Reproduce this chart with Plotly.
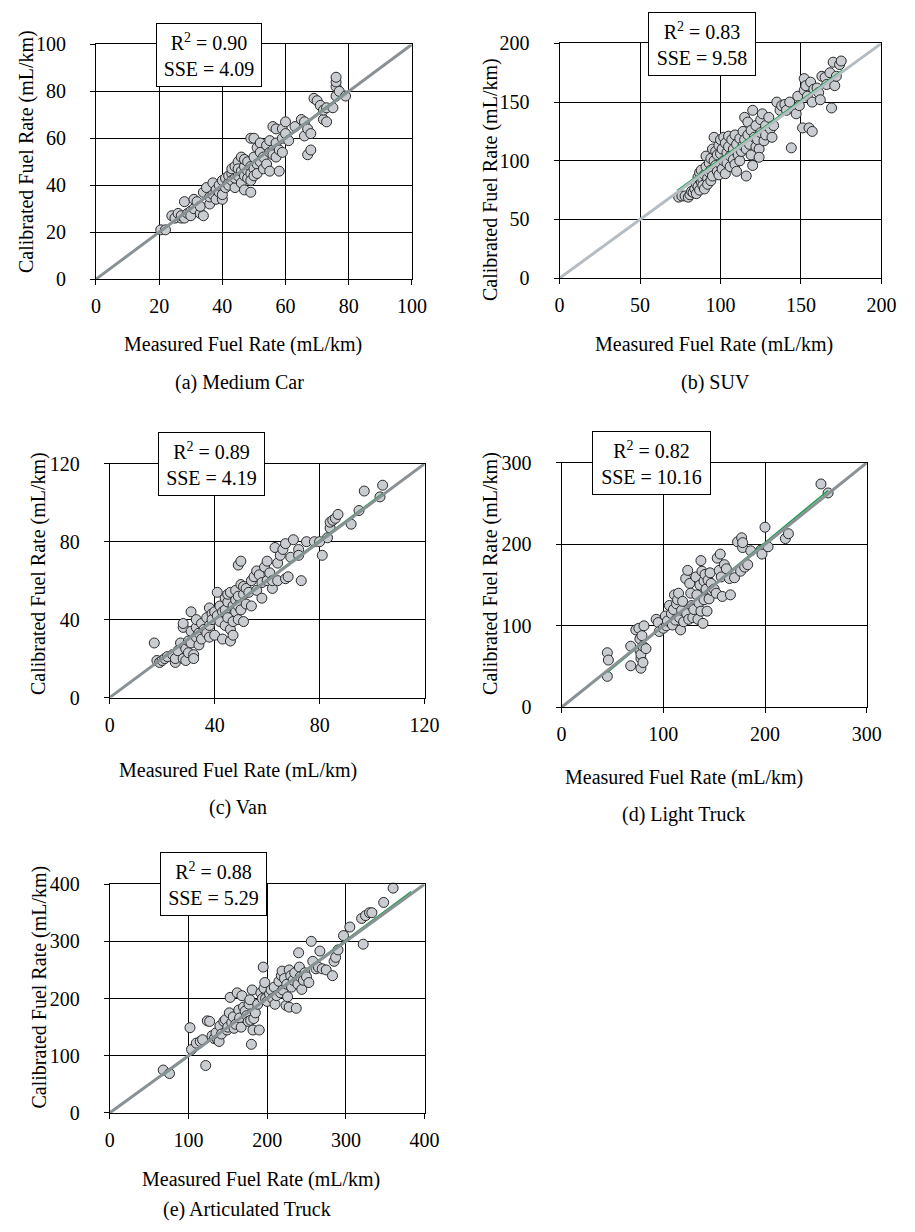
import plotly.graph_objects as go

W, H = 915, 1232
FONT = "Liberation Serif"

# ---------------- data ----------------
# (a) Medium Car
a_measured = [20.5, 22, 24, 25, 26, 27, 27, 28, 28, 29, 30, 30, 31, 31, 32, 33, 34, 33, 34, 35,
              36, 36, 37, 37, 38, 38, 39, 39, 40, 40, 40, 41, 41, 42, 42, 42, 43, 43, 43, 44,
              44, 44, 45, 45, 45, 46, 46, 46, 47, 47, 47, 47, 48, 48, 48, 49, 49, 49, 49, 49,
              50, 50, 50, 50, 51, 51, 51, 52, 52, 52, 53, 53, 54, 54, 55, 55, 55, 56, 56, 56,
              57, 57, 57, 58, 58, 59, 59, 59, 60, 60, 61, 63, 65, 66, 66, 67, 67, 68, 68, 69,
              70, 71, 72, 72, 73, 73, 75, 76, 76, 76, 76, 77, 79]
a_calibrated = [21, 21, 27, 26, 28, 26, 27, 26, 33, 28, 29, 27, 34, 30, 33, 28, 27, 31, 37, 39,
                32, 35, 41, 36, 38, 34, 37, 40, 34, 36, 42, 39, 43, 41, 44, 40, 45, 47, 42, 48,
                39, 43, 44, 50, 47, 52, 46, 41, 38, 44, 48, 51, 50, 46, 43, 60, 48, 45, 42, 37,
                60, 52, 47, 44, 56, 49, 45, 58, 50, 54, 47, 52, 57, 49, 46, 54, 59, 65, 55, 53,
                64, 58, 52, 46, 55, 64, 60, 54, 67, 62, 59, 65, 68, 67, 61, 64, 53, 55, 62, 77,
                76, 74, 68, 72, 73, 67, 73, 78, 82, 84, 86, 80, 78]
a_trend_x = [20, 79]
a_trend_y = [19.8, 79.5]

# (b) SUV
b_measured = [74, 76, 78, 80, 81, 82, 83, 84, 85, 85, 86, 86, 87, 87, 88, 88, 89, 89, 90, 90,
              91, 91, 92, 92, 93, 93, 94, 94, 94, 95, 95, 96, 96, 97, 97, 98, 98, 99, 99, 100,
              100, 100, 101, 101, 102, 102, 103, 103, 104, 104, 105, 105, 106, 106, 107, 108, 108, 109, 109, 110,
              110, 111, 112, 112, 113, 114, 114, 115, 115, 116, 116, 117, 117, 118, 119, 119, 120, 120, 121, 122,
              122, 123, 124, 124, 125, 125, 126, 127, 128, 128, 130, 131, 132, 133, 135, 137, 138, 140, 141, 143,
              144, 146, 147, 148, 149, 151, 152, 152, 153, 154, 155, 156, 157, 157, 158, 160, 161, 162, 163, 165,
              166, 168, 169, 170, 171, 172, 174, 175]
b_calibrated = [69, 70, 70, 69, 71, 74, 73, 76, 72, 80, 78, 86, 75, 90, 82, 92, 84, 79, 88, 76,
                104, 95, 85, 80, 98, 90, 102, 92, 83, 110, 87, 120, 100, 96, 108, 91, 105, 113, 88, 106,
                97, 118, 110, 93, 120, 100, 115, 89, 107, 98, 121, 112, 95, 104, 118, 101, 110, 122, 97, 91,
                114, 105, 119, 100, 108, 125, 113, 137, 118, 87, 110, 133, 122, 114, 126, 105, 143, 96, 120, 130,
                112, 118, 110, 103, 135, 124, 140, 117, 130, 122, 137, 127, 120, 130, 150, 143, 147, 148, 143, 150,
                111, 143, 140, 155, 147, 128, 170, 160, 164, 155, 128, 167, 125, 150, 161, 162, 158, 152, 172, 171,
                165, 175, 145, 184, 164, 172, 182, 185]
b_trend_x = [73, 176]
b_trend_y = [74.5, 177.5]

# (c) Van
c_measured = [17, 18, 19, 20, 21, 22, 24, 25, 25, 26, 27, 28, 28, 28, 29, 29, 30, 30, 31, 31,
              31, 32, 32, 33, 33, 33, 34, 34, 35, 35, 36, 37, 37, 38, 38, 38, 39, 39, 40, 40,
              41, 41, 42, 42, 43, 43, 44, 44, 44, 45, 45, 45, 46, 46, 46, 47, 47, 47, 48, 48,
              48, 49, 49, 49, 49, 50, 50, 50, 51, 51, 51, 52, 52, 53, 54, 54, 55, 56, 56, 57,
              58, 58, 59, 60, 60, 61, 62, 62, 63, 64, 64, 65, 66, 67, 67, 68, 69, 70, 72, 72,
              73, 75, 78, 80, 81, 83, 84, 84, 85, 86, 87, 92, 95, 97, 103, 104]
c_calibrated = [28, 19, 18, 19, 20, 21, 22, 18, 20, 24, 28, 20, 36, 38, 25, 19, 23, 29, 44, 34,
                28, 22, 20, 31, 36, 40, 27, 33, 30, 38, 35, 33, 41, 46, 37, 31, 43, 40, 44, 32,
                54, 42, 47, 39, 30, 44, 51, 45, 37, 49, 53, 41, 54, 35, 29, 47, 39, 32, 55, 50,
                44, 52, 47, 40, 68, 70, 58, 45, 53, 57, 39, 56, 48, 54, 47, 60, 62, 65, 55, 63,
                51, 59, 67, 60, 70, 64, 56, 60, 77, 69, 60, 73, 76, 79, 61, 62, 72, 81, 76, 73,
                60, 80, 80, 80, 73, 82, 87, 90, 91, 92, 94, 89, 96, 106, 103, 109]
c_trend_x = [17, 104]
c_trend_y = [17.3, 104.8]

# (d) Light Truck
d_measured = [45, 46, 45, 68, 68, 73, 76, 77, 77, 78, 78, 78, 79, 80, 80, 81, 83, 93, 95, 96,
              100, 102, 103, 104, 106, 108, 109, 110, 111, 112, 113, 114, 115, 116, 117, 118, 119, 120, 122, 123,
              124, 125, 126, 127, 128, 129, 130, 132, 133, 134, 135, 136, 137, 137, 138, 139, 140, 140, 141, 142,
              143, 144, 145, 146, 147, 148, 150, 152, 153, 155, 156, 157, 158, 160, 162, 165, 166, 170, 173, 176,
              177, 178, 178, 180, 183, 186, 196, 197, 200, 203, 220, 223, 255, 262]
d_calibrated = [67, 58, 38, 75, 51, 95, 97, 84, 70, 60, 65, 48, 88, 55, 75, 100, 72, 108, 104, 93,
                97, 112, 100, 106, 125, 115, 101, 120, 138, 107, 127, 132, 140, 110, 95, 119, 130, 105, 158, 115,
                168, 108, 152, 140, 125, 110, 120, 160, 138, 108, 128, 150, 180, 118, 167, 103, 155, 132, 163, 145,
                118, 156, 133, 165, 152, 143, 145, 140, 183, 168, 188, 160, 136, 175, 170, 158, 138, 159, 203, 167,
                208, 196, 202, 172, 175, 192, 193, 188, 221, 197, 207, 213, 274, 263]
d_trend_x = [45, 262]
d_trend_y = [43, 266]

# (e) Articulated Truck
e_measured = [68, 76, 102, 104, 110, 115, 118, 122, 124, 127, 130, 133, 135, 137, 139, 140, 142, 145, 147, 149,
              150, 152, 153, 155, 157, 158, 160, 162, 164, 165, 167, 168, 170, 172, 174, 176, 177, 178, 179, 180,
              181, 182, 183, 185, 188, 190, 192, 194, 195, 196, 197, 198, 200, 203, 205, 207, 209, 210, 212, 215,
              217, 218, 219, 220, 222, 224, 225, 226, 228, 228, 230, 231, 233, 235, 237, 239, 240, 241, 242, 244,
              246, 248, 250, 253, 256, 258, 262, 265, 267, 270, 275, 283, 285, 287, 290, 297, 305, 320, 322, 325,
              330, 333, 348, 360]
e_calibrated = [75, 69, 149, 111, 122, 125, 128, 83, 161, 160, 135, 130, 140, 128, 125, 152, 138, 160, 163, 145,
                150, 175, 202, 158, 168, 148, 155, 210, 180, 166, 150, 205, 185, 178, 170, 160, 190, 198, 162, 120,
                215, 145, 165, 175, 190, 145, 210, 200, 255, 218, 228, 200, 195, 208, 215, 200, 220, 190, 205, 230,
                210, 240, 248, 215, 235, 188, 225, 203, 250, 185, 240, 220, 232, 245, 183, 225, 280, 255, 238, 216,
                232, 245, 238, 228, 300, 265, 252, 255, 283, 252, 250, 240, 265, 272, 285, 310, 325, 340, 295, 345,
                350, 350, 368, 393]
e_trend_x = [68, 383]
e_trend_y = [66, 387]

r2_labels = ["0.90", "0.83", "0.89", "0.82", "0.88"]
sse_labels = ["4.09", "9.58", "4.19", "10.16", "5.29"]
captions = ["(a) Medium Car", "(b) SUV", "(c) Van", "(d) Light Truck", "(e) Articulated Truck"]
axis_max = [100, 200, 120, 300, 400]
axis_dtick = [20, 50, 40, 100, 100]

# ---------------- layout geometry (pixels) ----------------
panels = [
    dict(x=a_measured, y=a_calibrated, tx=a_trend_x, ty=a_trend_y, box=(93, 416, 34, 273),
         diag="#8a9195", ann=(209, 45), annw=96, ytitle=(22, 143), xtitle=(243, 340), cap=(240, 378)),
    dict(x=b_measured, y=b_calibrated, tx=b_trend_x, ty=b_trend_y, box=(567, 896, 33, 272),
         diag="#b6bdc2", ann=(713, 34), annw=98, ytitle=(497, 172), xtitle=(725, 340), cap=(726, 378)),
    dict(x=c_measured, y=c_calibrated, tx=c_trend_x, ty=c_trend_y, box=(107, 429, 461, 699),
         diag="#8a9195", ann=(211, 461), annw=97, ytitle=(35, 573), xtitle=(238, 773), cap=(238, 811)),
    dict(x=d_measured, y=d_calibrated, tx=d_trend_x, ty=d_trend_y, box=(569, 881, 460, 709),
         diag="#8a9195", ann=(661, 460), annw=109, ytitle=(497, 573), xtitle=(694, 780), cap=(694, 818)),
    dict(x=e_measured, y=e_calibrated, tx=e_trend_x, ty=e_trend_y, box=(107, 429, 889, 1122),
         diag="#8a9195", ann=(213, 889), annw=97, ytitle=(35, 994), xtitle=(262, 1190), cap=(247, 1220)),
]


def px(xp):
    return xp / W


def py(yp):
    return 1 - yp / H


fig = go.Figure()
layout = dict(width=W, height=H, margin=dict(l=0, r=0, t=0, b=0),
              paper_bgcolor="white", plot_bgcolor="white", showlegend=False,
              font=dict(family=FONT, size=20, color="black"))
annotations = []

for i, p in enumerate(panels):
    n = "" if i == 0 else str(i + 1)
    xa, ya = "x" + n, "y" + n
    x0, x1, y0, y1 = p["box"]
    mx = axis_max[i]
    common = dict(range=[0, mx], dtick=axis_dtick[i], tick0=0, showgrid=True, gridcolor="black",
                  gridwidth=1, showline=True, linecolor="black", linewidth=1, mirror=True,
                  ticks="outside", ticklen=5, tickcolor="black", tickwidth=1, zeroline=False,
                  tickfont=dict(family=FONT, size=20, color="black"), fixedrange=True)
    layout["xaxis" + n] = dict(common, domain=[px(x0), px(x1)], anchor=ya, ticklabelstandoff=4)
    layout["yaxis" + n] = dict(common, domain=[py(y1), py(y0)], anchor=xa, ticklabelstandoff=20)

    fig.add_trace(go.Scatter(x=p["x"], y=p["y"], mode="markers", xaxis=xa, yaxis=ya,
                             marker=dict(size=10, color="#c9ccd0",
                                         line=dict(color="#2a2a2a", width=1)),
                             cliponaxis=False))
    fig.add_trace(go.Scatter(x=p["tx"], y=p["ty"], mode="lines", xaxis=xa, yaxis=ya,
                             line=dict(color="#17a04a", width=1.6)))
    fig.add_trace(go.Scatter(x=[0, mx], y=[0, mx], mode="lines", xaxis=xa, yaxis=ya,
                             line=dict(color=p["diag"], width=3), cliponaxis=False))

    ax, ay = p["ann"]
    annotations.append(dict(xref="paper", yref="paper", x=px(ax), y=py(ay),
                            xanchor="center", yanchor="middle", showarrow=False,
                            text="R<sup>2</sup> = %s<br>SSE = %s" % (r2_labels[i], sse_labels[i]),
                            font=dict(family=FONT, size=20, color="black"),
                            width=p["annw"], height=54,
                            bgcolor="white", bordercolor="black", borderwidth=1, borderpad=4,
                            align="center", valign="middle"))
    tx, ty = p["ytitle"]
    annotations.append(dict(xref="paper", yref="paper", x=px(tx), y=py(ty),
                            xanchor="center", yanchor="middle", showarrow=False, textangle=-90,
                            text="Calibrated Fuel Rate (mL/km)",
                            font=dict(family=FONT, size=20, color="black")))
    tx, ty = p["xtitle"]
    annotations.append(dict(xref="paper", yref="paper", x=px(tx), y=py(ty),
                            xanchor="center", yanchor="middle", showarrow=False,
                            text="Measured Fuel Rate (mL/km)",
                            font=dict(family=FONT, size=20, color="black")))
    tx, ty = p["cap"]
    annotations.append(dict(xref="paper", yref="paper", x=px(tx), y=py(ty),
                            xanchor="center", yanchor="middle", showarrow=False,
                            text=captions[i],
                            font=dict(family=FONT, size=20, color="black")))

layout["annotations"] = annotations
fig.update_layout(**layout)
fig.write_html("out.html")
